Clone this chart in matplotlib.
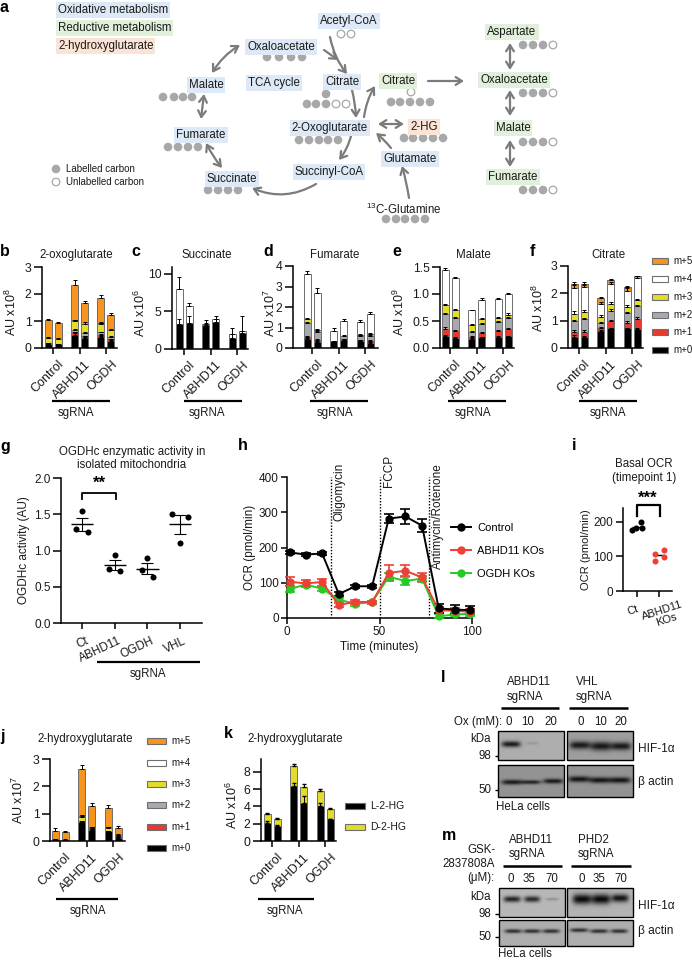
import numpy as np
import matplotlib
matplotlib.use('Agg')
import matplotlib.pyplot as plt
from matplotlib.lines import Line2D
from matplotlib.patches import Circle, FancyArrowPatch, Rectangle
from matplotlib.transforms import ScaledTranslation

plt.rcParams['font.family'] = ['Liberation Sans', 'DejaVu Sans']
plt.rcParams['mathtext.default'] = 'regular'
plt.rcParams['axes.linewidth'] = 1.1

W, H = 692, 961
TXT = '#1a1a1a'
ORANGE = '#F7941D'
YELLOW = '#E2DC2B'
GREY = '#A7A9AC'
RED = '#E8392F'
GREEN = '#22CC22'
ARROW = '#7b7b7b'
CARBON = '#a8a8a8'
BLUE_BG = '#DDE9F6'
GREEN_BG = '#E0F0DA'
ORANGE_BG = '#FBE4D6'

genotypes = ['Control', 'ABHD11', 'OGDH']
bar_x = [0, 1, 2.65, 3.65, 5.3, 6.3]
group_x = [0.5, 3.15, 5.8]
isotopes = ['m+0', 'm+1', 'm+2', 'm+3', 'm+4', 'm+5']
iso_colors = ['black', RED, GREY, YELLOW, 'white', ORANGE]

# cumulative tops of each isotopologue, m+0 ... m+5, one row per bar
b_tops = [[.15, .16, .18, .36, .36, 1.02], [.13, .14, .15, .33, .33, .93],
          [.50, .58, .68, 1.00, 1.02, 2.33], [.38, .43, .55, .90, .90, 1.67],
          [.42, .48, .58, .90, .92, 1.85], [.25, .32, .42, .65, .67, 1.22]]
b_err = [[.03, 0, 0, .03, 0, .05], [.02, 0, 0, .03, 0, .05], [.05, .03, .03, .05, 0, .2],
         [.04, .03, .03, .05, 0, .08], [.04, .03, .03, .05, 0, .1], [.03, .03, .03, .04, 0, .08]]
c_tops = [[3.3, 3.3, 3.3, 3.3, 8.0, 8.0], [3.4, 3.4, 3.4, 3.4, 5.7, 5.7],
          [3.1, 3.1, 3.1, 3.1, 3.3, 3.3], [3.6, 3.6, 3.6, 3.6, 4.0, 4.0],
          [1.4, 1.4, 1.4, 1.4, 2.0, 2.0], [2.1, 2.1, 2.1, 2.1, 2.3, 2.3]]
c_err = [[.6, 0, 0, 0, 1.5, 0], [.9, 0, 0, 0, .4, 0], [.3, 0, 0, 0, .5, 0],
         [.3, 0, 0, 0, .35, 0], [.5, 0, 0, 0, .8, 0], [.2, 0, 0, 0, 2.0, 0]]
d_tops = [[.45, .55, 1.2, 1.4, 3.6, 3.6], [.3, .4, .8, .9, 2.7, 2.7],
          [.33, .33, .33, .33, .85, .85], [.38, .43, .58, .58, 1.33, 1.33],
          [.33, .38, .60, .65, 1.27, 1.27], [.25, .35, .60, .68, 1.66, 1.66]]
d_err = [[.05, .05, .05, .06, .17, 0], [.05, .05, .05, .05, .22, 0], [.02, 0, 0, 0, .12, 0],
         [.03, .03, .03, 0, .1, 0], [.03, .03, .03, .03, .1, 0], [.03, .03, .03, .03, .12, 0]]
e_tops = [[.23, .36, .63, .80, 1.45, 1.45], [.19, .31, .56, .70, 1.30, 1.30],
          [.17, .21, .30, .42, .70, .70], [.20, .28, .45, .53, .89, .89],
          [.21, .31, .48, .55, .91, .91], [.22, .35, .55, .62, 1.00, 1.00]]
e_err = [[.02, .02, .02, .02, .03, 0], [.02, .02, .02, .02, .02, 0], [.01, .01, .01, .02, .01, 0],
         [.01, .01, .01, .02, .03, 0], [.01, .02, .02, .02, .02, 0], [.01, .02, .02, .02, .02, 0]]
f_tops = [[.42, .60, .98, 1.25, 2.20, 2.35], [.40, .60, 1.05, 1.30, 2.22, 2.35],
          [.63, .72, .90, 1.12, 1.60, 1.82], [.72, .98, 1.37, 1.62, 2.33, 2.47],
          [.72, .93, 1.27, 1.50, 2.10, 2.25], [.70, 1.07, 1.52, 1.75, 2.55, 2.62]]
f_err = [[.04, .06, .06, .1, .12, .05], [.04, .06, .05, .08, .1, .05], [.03, .04, .04, .1, .08, .03],
         [.03, .05, .05, .08, .08, .05], [.03, .05, .05, .06, .08, .03], [.03, .05, .06, .06, .08, .03]]
j_tops = [[.06, .06, .06, .06, .06, .35], [.05, .05, .05, .05, .05, .32],
          [.68, .70, .75, .88, .92, 2.62], [.40, .42, .43, .47, .50, 1.28],
          [.35, .37, .38, .47, .50, 1.20], [.12, .13, .14, .20, .22, .47]]
j_err = [[.02, 0, 0, 0, 0, .13], [.01, 0, 0, 0, 0, .04], [.05, 0, 0, .06, .03, .15],
         [.03, 0, 0, .03, .02, .12], [.03, 0, 0, .03, .02, .1], [.02, 0, 0, .02, .02, .07]]
k_l2hg = [2.1, 1.7, 6.4, 4.4, 4.1, 2.5]
k_total = [3.1, 2.6, 8.7, 6.3, 5.8, 3.75]
k_l_err = [.2, .15, .35, .8, .3, .1]
k_total_err = [.1, .1, .25, .35, .2, .1]

g_labels = ['Ct', 'ABHD11', 'OGDH', 'VHL']
g_x = [-.17, 0, .17, .83, 1, 1.17, 1.83, 2, 2.17, 2.75, 3.25, 3]
g_y = [1.29, 1.54, 1.26, .745, .94, .717, .73, .90, .63, 1.51, 1.46, 1.10]
g_mean = [1.36, .80, .75, 1.36]
g_sem = [.09, .07, .08, .13]

time_min = [1.6, 10, 19, 28, 37, 46, 55, 64, 73, 82, 91, 99]
ocr_control = [186, 180, 183, 68, 90, 90, 282, 288, 262, 27, 24, 22]
ocr_control_err = [5, 4, 3, 5, 4, 4, 12, 22, 18, 14, 14, 12]
ocr_abhd11 = [103, 98, 102, 37, 46, 45, 128, 134, 115, 22, 20, 18]
ocr_abhd11_err = [12, 10, 10, 5, 5, 4, 22, 15, 12, 8, 8, 8]
ocr_ogdh = [82, 95, 83, 52, 40, 45, 117, 105, 112, 5, 10, 12]
ocr_ogdh_err = [8, 5, 5, 5, 5, 4, 10, 10, 8, 5, 5, 5]
injections = [24, 50, 77]

i_ct_x = [-.25, -.03, .2, .23]
i_ct_y = [176, 183, 199, 181]
i_ko_x = [.8, .8, 1.22, 1.22]
i_ko_y = [107, 86, 118, 99]
i_means = [185, 103]

fig = plt.figure(figsize=(W / 100, H / 100), dpi=100)


def px_axes(x0, x1, ytop, ybot):
    ax = fig.add_axes([x0 / W, 1 - ybot / H, (x1 - x0) / W, (ybot - ytop) / H])
    ax.patch.set_visible(False)
    ax.spines['top'].set_visible(False)
    ax.spines['right'].set_visible(False)
    return ax


def shift_labels(ax, dx):
    off = ScaledTranslation(dx / 100, 0, fig.dpi_scale_trans)
    for lab in ax.get_xticklabels():
        lab.set_transform(lab.get_transform() + off)


def finish(ax, yticks, ticklabels):
    ax.set_yticks(yticks)
    if ticklabels:
        ax.set_yticklabels(ticklabels)
    ax.set_xticks(group_x)
    ax.set_xticklabels(genotypes, rotation=45, ha='right', va='top', rotation_mode='anchor', fontsize=9, color=TXT)
    ax.tick_params(axis='y', length=5.5, width=1.1, labelsize=8.8, pad=2, labelcolor=TXT)
    ax.tick_params(axis='x', length=4.5, width=1.1, pad=3)
    shift_labels(ax, 5)


def stacked(x0, x1, ytop, ybot, first_bar, ymax, yticks, tops, errs, ticklabels=None):
    ax = px_axes(x0, x1, ytop, ybot)
    ax.set_xlim((x0 - first_bar) / 10, (x1 - first_bar) / 10)
    ax.set_ylim(0, ymax)
    tops = np.array(tops)
    errs = np.array(errs)
    for row, x in enumerate(bar_x):
        bottom = 0
        for k in range(6):
            h = tops[row, k] - bottom
            if h > 0:
                ax.bar(x, h, 0.7, bottom=bottom, color=iso_colors[k], edgecolor='#6d6e71', linewidth=.7, zorder=2)
                ax.errorbar(x, tops[row, k], yerr=[[0], [errs[row, k]]], color='black', lw=.7,
                            capsize=1.6, capthick=.7, zorder=3)
            bottom = tops[row, k]
    finish(ax, yticks, ticklabels)
    return ax


stacked(42, 117, 267, 348, 48, 3, [0, 1, 2, 3], b_tops, b_err)
stacked(172, 248, 267, 348.7, 179, 10.9, [0, 5, 10], c_tops, c_err)
stacked(293, 378, 266, 348, 307, 4, [0, 1, 2, 3, 4], d_tops, d_err)
stacked(440, 514, 267, 348, 445, 1.5, [0, .5, 1, 1.5], e_tops, e_err, ['0.0', '0.5', '1.0', '1.5'])
stacked(568, 643, 266, 348, 574, 3, [0, 1, 2, 3], f_tops, f_err)
stacked(50, 125, 759, 841, 55, 3, [0, 1, 2, 3], j_tops, j_err)

# panel k
ax = px_axes(261, 336, 759, 841)
ax.set_xlim((261 - 267) / 10, (336 - 267) / 10)
ax.set_ylim(0, 9.5)
ax.bar(bar_x, k_l2hg, .7, color='black', edgecolor='#6d6e71', linewidth=.7, zorder=2)
ax.bar(bar_x, np.array(k_total) - np.array(k_l2hg), .7, bottom=k_l2hg, color=YELLOW,
       edgecolor='#6d6e71', linewidth=.7, zorder=2)
ax.errorbar(bar_x, k_l2hg, yerr=[np.zeros(6), k_l_err], fmt='none', ecolor='black', lw=.7, capsize=1.6, zorder=3)
ax.errorbar(bar_x, k_total, yerr=[np.zeros(6), k_total_err], fmt='none', ecolor='black', lw=.7, capsize=1.6, zorder=3)
finish(ax, [0, 2, 4, 6, 8], None)

# panel g
ax = px_axes(61, 202, 478, 623)
ax.set_xlim((61 - 82) / 32.7, (202 - 82) / 32.7)
ax.set_ylim(0, 2)
ax.scatter(g_x, g_y, s=19, color='black', zorder=3, linewidths=0)
ax.errorbar(range(4), g_mean, yerr=g_sem, fmt='none', ecolor='black', lw=.8, capsize=4.2, capthick=.8)
ax.hlines(g_mean, np.arange(4) - .34, np.arange(4) + .34, color='black', lw=1)
ax.set_yticks([0, .5, 1, 1.5, 2])
ax.set_yticklabels(['0.0', '0.5', '1.0', '1.5', '2.0'])
ax.set_xticks(range(4))
ax.set_xticklabels(g_labels, rotation=25, ha='right', va='top', rotation_mode='anchor', fontsize=8.5, color=TXT)
ax.tick_params(axis='y', length=5.5, width=1.1, labelsize=8.5, pad=2, labelcolor=TXT)
ax.tick_params(axis='x', length=4.5, width=1.1, pad=4)
shift_labels(ax, 3)
ax.set_ylabel('OGDHc activity (AU)', fontsize=8.5, color=TXT, labelpad=3)

# panel h
ax = px_axes(287, 472, 477, 618)
ax.set_xlim(0, 100)
ax.set_ylim(0, 400)
for inj in injections:
    ax.axvline(inj, color='black', lw=1, ls=(0, (1, 1.2)), zorder=1)
h_handles = []
for y, e, c, lab in [(ocr_ogdh, ocr_ogdh_err, GREEN, 'OGDH KOs'),
                     (ocr_abhd11, ocr_abhd11_err, '#EE4035', 'ABHD11 KOs'),
                     (ocr_control, ocr_control_err, 'black', 'Control')]:
    ax.errorbar(time_min, y, yerr=e, color=c, marker='o', ms=5, lw=1.4, capsize=3.3, capthick=1.2,
                elinewidth=1.2, clip_on=False, zorder=3)
    h_handles.append(Line2D([], [], color=c, marker='o', ms=5, lw=1.4, label=lab))
ax.set_xticks([0, 50, 100])
ax.set_yticks([0, 100, 200, 300, 400])
ax.tick_params(axis='both', length=4, width=1.1, labelsize=8.5, pad=2, labelcolor=TXT)
ax.set_xlabel('Time (minutes)', fontsize=8.5, color=TXT, labelpad=2)
ax.set_ylabel('OCR (pmol/min)', fontsize=8.5, color=TXT, labelpad=2)
ax.legend(handles=h_handles[::-1], loc='upper left', bbox_to_anchor=((453 - 287) / 185 - .01, (618 - 523) / 141),
          frameon=False, fontsize=8, handlelength=1.8, handletextpad=.55, labelspacing=1.15, borderpad=0, borderaxespad=0)

# panel i
ax = px_axes(623, 672, 508, 591)
ax.set_xlim((623 - 637) / 22, (672 - 637) / 22)
ax.set_ylim(0, 240)
ax.scatter(i_ct_x, i_ct_y, s=19, color='black', linewidths=0, zorder=3)
ax.scatter(i_ko_x, i_ko_y, s=19, color='#EE4035', linewidths=0, zorder=3)
ax.hlines(i_means, [-.25, .75], [.25, 1.25], color='black', lw=1, zorder=2)
ax.set_xticks([0, 1])
ax.set_xticklabels([])
ax.set_yticks([0, 100, 200])
ax.tick_params(axis='y', length=5, width=1.1, labelsize=8.5, pad=2, labelcolor=TXT)
ax.tick_params(axis='x', length=4, width=1.1, pad=3)
ax.set_ylabel('OCR (pmol/min)', fontsize=8, color=TXT, labelpad=2)

# overlay in pixel coordinates: schematic, labels, blots
ov = fig.add_axes([0, 0, 1, 1], zorder=10)
ov.patch.set_visible(False)
ov.axis('off')


def T(x, y, s, size=8.3, ha='center', va='center', **kw):
    kw.setdefault('color', TXT)
    ov.text(x, y, s, fontsize=size, ha=ha, va=va, **kw)


def L(x0, x1, y, lw=1.5, color='black'):
    ov.plot([x0, x1], [y, y], color=color, lw=lw, solid_capstyle='butt')


T(633, 610, 'Ct', size=8, rotation=18)
T(662, 611, 'ABHD11', size=8, rotation=18)
T(666, 620, 'KOs', size=8, rotation=18)

for x, y, s in [(11, 312, 'AU x10$^{8}$'), (140, 313, 'AU x10$^{6}$'), (270, 313, 'AU x10$^{7}$'),
                (399, 312, 'AU x10$^{9}$'), (538, 308, 'AU x10$^{8}$'), (18, 800, 'AU x10$^{7}$'),
                (232, 805, 'AU x10$^{6}$')]:
    T(x, y, s, size=9, rotation=90)

for x, y, s in [(4, 7, 'a'), (5, 251, 'b'), (136, 251, 'c'), (268, 251, 'd'), (397, 251, 'e'), (532, 251, 'f'),
                (5, 446, 'g'), (243, 446, 'h'), (574, 446, 'i'), (3, 737, 'j'), (228, 733, 'k'),
                (443, 678, 'l'), (449, 836, 'm')]:
    T(x, y, s, size=11.5, weight='bold', color='black')

for x, y, s in [(76, 255, '2-oxoglutarate'), (207, 255, 'Succinate'), (335, 255, 'Fumarate'),
                (473, 255, 'Malate'), (608, 255, 'Citrate'), (85, 739, '2-hydroxyglutarate'),
                (295, 739, '2-hydroxyglutarate'), (132, 452, 'OGDHc enzymatic activity in'),
                (132, 465, 'isolated mitochondria'), (644, 464, 'Basal OCR'), (644, 478, '(timepoint 1)')]:
    T(x, y, s)

for x0, x1, cx, y in [(52, 110, 76, 401), (184, 242, 207, 401), (310, 368, 335, 401), (448, 506, 473, 401),
                      (579, 637, 608, 401), (97, 200, 148, 662), (56, 118, 88, 899), (258, 314, 285, 899)]:
    L(x0, x1, y, lw=1.6)
    T(cx, y + 12, 'sgRNA')

# isotopologue legends
for ys, xs, xt in [([350, 332, 315, 297, 279, 261], 652, 673), ([848, 827, 805, 784, 763, 741], 147, 171)]:
    for y, c, s in zip(ys, iso_colors, isotopes):
        ov.add_patch(Rectangle((xs, y - 3), xt - xs - 5, 6, fc=c, ec='#6d6e71', lw=.8))
        T(xt, y, s, size=7, ha='left')
for y, c, s in [(806, 'black', 'L-2-HG'), (827, YELLOW, 'D-2-HG')]:
    ov.add_patch(Rectangle((345, y - 3), 20, 6, fc=c, ec='#6d6e71', lw=.8))
    T(370, y, s, size=7.5, ha='left')

# significance brackets
ov.plot([82, 82, 116, 116], [499, 493, 493, 499], color='black', lw=1.3)
T(99, 483, '**', size=12, weight='bold', color='black')
ov.plot([637, 637, 660, 660], [516, 505, 505, 516], color='black', lw=1.6)
T(648, 498, '***', size=12, weight='bold', color='black')

# injection labels in h
T(339, 463, 'Oligomycin', rotation=90, va='top', size=8.5)
T(389, 455, 'FCCP', rotation=90, va='top', size=8.5)
T(438, 463, 'Antimycin/Rotenone', rotation=90, va='top', size=8.5)

# panel a
for y, s, c in [(10, 'Oxidative metabolism', BLUE_BG), (28, 'Reductive metabolism', GREEN_BG),
                (46, '2-hydroxyglutarate', ORANGE_BG)]:
    T(58, y, s, ha='left', bbox=dict(fc=c, ec='none', pad=1.4))

for x, y, s, c in [(349, 21, 'Acetyl-CoA', BLUE_BG), (281, 47, 'Oxaloacetate', BLUE_BG), (206, 85, 'Malate', BLUE_BG),
                   (274, 83, 'TCA cycle', BLUE_BG), (342, 82, 'Citrate', BLUE_BG), (398, 81, 'Citrate', GREEN_BG),
                   (201, 135, 'Fumarate', BLUE_BG), (330, 128, '2-Oxoglutarate', BLUE_BG), (424, 127, '2-HG', ORANGE_BG),
                   (410, 159, 'Glutamate', BLUE_BG), (329, 172, 'Succinyl-CoA', BLUE_BG), (232, 179, 'Succinate', BLUE_BG),
                   (512, 32, 'Aspartate', GREEN_BG), (514, 80, 'Oxaloacetate', GREEN_BG), (513, 128, 'Malate', GREEN_BG),
                   (513, 177, 'Fumarate', GREEN_BG)]:
    T(x, y, s, bbox=dict(fc=c, ec='none', pad=1.4))
T(404, 209, '$^{13}$C-Glutamine')

filled = [([267, 279, 291, 302], 57), ([163, 174, 183, 192], 97), ([326], 94), ([307, 316, 326], 104),
          ([391, 400, 410, 420, 430], 102), ([168, 178, 188, 198], 147), ([299, 309, 319, 328, 338], 140),
          ([404, 413, 423, 433, 443], 138), ([208, 218, 228, 238], 190), ([386, 396, 405, 415, 425], 219),
          ([523, 533, 543], 45), ([523, 533, 543], 93), ([523, 533, 543], 142), ([523, 533, 543], 190), ([56], 169)]
hollow = [([341, 351], 34), ([336, 346], 104), ([411], 92), ([553], 45), ([553], 93), ([553], 142), ([553], 190), ([56], 182)]
for xs, y in filled:
    for x in xs:
        ov.add_patch(Circle((x, y), 4.3, fc=CARBON, ec='none'))
for xs, y in hollow:
    for x in xs:
        ov.add_patch(Circle((x, y), 3.8, fc='white', ec=CARBON, lw=.9))
T(66, 169, 'Labelled carbon', size=7, ha='left')
T(66, 182, 'Unlabelled carbon', size=7, ha='left')

one = '->,head_length=0.45,head_width=0.28'
both = '<->,head_length=0.45,head_width=0.28'
for a, b, st, rad in [((240, 45), (212, 73), both, .12), ((204, 94), (201, 119), both, 0), ((206, 143), (222, 168), both, .05),
                      ((316, 184), (252, 188), one, -.25), ((351, 136), (339, 160), one, -.1), ((391, 148), (376, 133), one, .05),
                      ((409, 198), (402, 166), one, .03), ((352, 90), (356, 118), one, -.05), ((364, 117), (375, 86), one, -.1),
                      ((378, 124), (404, 124), both, 0), ((330, 37), (347, 74), one, .12), ((324, 50), (338, 60), one, 0),
                      ((428, 81), (464, 81), one, 0), ((510, 43), (510, 70), both, 0), ((510, 90), (510, 116), both, 0),
                      ((510, 140), (510, 167), both, 0)]:
    ov.add_patch(FancyArrowPatch(a, b, arrowstyle=st, connectionstyle=f'arc3,rad={rad}', color=ARROW, lw=1.6,
                                 mutation_scale=10, shrinkA=0, shrinkB=0))


def blot(x0, x1, y0, y1, bg, bands):
    n = (y1 - y0) * 3, (x1 - x0) * 3
    yy, xx = np.mgrid[0:n[0], 0:n[1]]
    xx = x0 + xx / 3
    yy = y0 + yy / 3
    img = np.full(n, bg, dtype=float)
    for xc, yc, w, h, s in bands:
        img -= s * np.exp(-((xx - xc) / (w / 2)) ** 4) * np.exp(-((yy - yc) / (h / 2)) ** 2)
    ov.imshow(np.clip(img, 0, 1), cmap='gray', vmin=0, vmax=1, extent=(x0, x1, y1, y0), aspect='auto',
              interpolation='bilinear')
    ov.add_patch(Rectangle((x0, y0), x1 - x0, y1 - y0, fc='none', ec='black', lw=1))


# panel l
blot(498, 564, 731, 760, .68, [(511, 744, 19, 6, .58), (532, 743, 12, 3, .08)])
blot(567, 633, 731, 760, .62, [(580, 745, 21, 8, .52), (601, 746, 21, 9, .52), (621, 746, 20, 8, .52)])
blot(498, 564, 765, 797, .58, [(512, 782, 21, 5, .48), (531, 782, 19, 4, .45), (553, 781, 20, 5, .48)])
blot(567, 633, 765, 797, .58, [(579, 779, 22, 6, .5), (600, 780, 21, 6, .5), (620, 780, 21, 6, .5)])
for x, a in [(507, 'ABHD11'), (576, 'VHL')]:
    T(x, 682, a, ha='left')
    T(x, 697, 'sgRNA', ha='left')
L(501, 559, 708, lw=1.8)
L(569, 628, 708, lw=1.8)
T(502, 722, 'Ox (mM):', ha='right')
for x, s in [(509, '0'), (528, '10'), (551, '20'), (581, '0'), (601, '10'), (621, '20')]:
    T(x, 722, s)
T(491, 739, 'kDa', ha='right')
T(491, 756, '98', ha='right')
T(491, 790, '50', ha='right')
L(495, 498, 756, lw=1)
L(495, 498, 790, lw=1)
T(638, 749, 'HIF-1α', ha='left', size=8.6)
T(638, 782, 'β actin', ha='left', size=8.6)
T(496, 807, 'HeLa cells', ha='left')

# panel m
blot(499, 565, 888, 917, .72, [(512, 899, 17, 6, .58), (532, 899, 16, 6, .55), (552, 899, 13, 3, .14)])
blot(567, 633, 888, 917, .7, [(582, 899, 19, 10, .66), (601, 899, 19, 10, .66), (620, 898, 17, 8, .62)])
blot(499, 565, 920, 946, .68, [(513, 931, 17, 4, .5), (532, 931, 17, 4, .5), (551, 931, 17, 4, .5)])
blot(567, 633, 920, 946, .68, [(579, 930, 18, 4, .5), (599, 931, 18, 4, .5), (619, 931, 17, 4, .5)])
T(495, 850, 'GSK-', ha='right')
T(495, 864, '2837808A', ha='right')
T(495, 878, '(μM):', ha='right')
for x, a in [(509, 'ABHD11'), (578, 'PHD2')]:
    T(x, 840, a, ha='left')
    T(x, 854, 'sgRNA', ha='left')
L(503, 562, 866, lw=1.8)
L(571, 631, 866, lw=1.8)
for x, s in [(511, '0'), (529, '35'), (552, '70'), (582, '0'), (599, '35'), (621, '70')]:
    T(x, 879, s)
T(491, 897, 'kDa', ha='right')
T(491, 914, '98', ha='right')
T(491, 937, '50', ha='right')
L(495, 499, 914, lw=1)
L(495, 499, 937, lw=1)
T(638, 906, 'HIF-1α', ha='left', size=8.6)
T(638, 931, 'β actin', ha='left', size=8.6)
T(498, 954, 'HeLa cells', ha='left')

ov.set_xlim(0, W)
ov.set_ylim(H, 0)

fig.savefig('out.png', dpi=100)
